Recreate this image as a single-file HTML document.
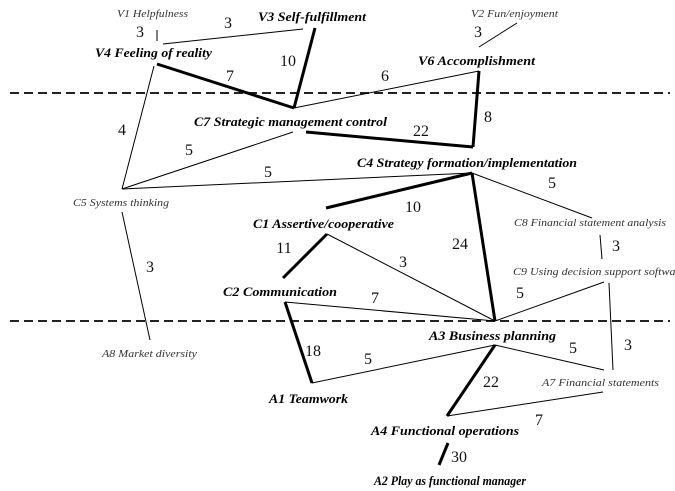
<!DOCTYPE html>
<html>
<head>
<meta charset="utf-8">
<style>
  html,body{margin:0;padding:0;background:#fff;}
  svg{display:block;}
  .b{font-family:"Liberation Serif",serif;font-weight:bold;font-style:italic;font-size:13px;fill:#000;}
  .s{font-family:"Liberation Serif",serif;font-style:italic;font-size:11px;fill:#333;}
  .n{font-family:"Liberation Serif",serif;font-size:16px;fill:#111;text-anchor:middle;}
  .t{stroke:#000;stroke-width:1;fill:none;}
  .k{stroke:#000;stroke-width:3;fill:none;}
  .d{stroke:#222;stroke-width:2;stroke-dasharray:9,5;fill:none;}
</style>
</head>
<body>
<svg width="675" height="491" viewBox="0 0 675 491" xmlns="http://www.w3.org/2000/svg">
  <!-- dashed separators -->
  <line class="d" x1="10" y1="93" x2="670" y2="93"/>
  <line class="d" x1="10" y1="321" x2="670" y2="321"/>

  <!-- thin lines -->
  <line class="t" x1="157" y1="30" x2="157" y2="41"/>
  <line class="t" x1="163" y1="44" x2="303" y2="29"/>
  <line class="t" x1="517" y1="23" x2="479" y2="47"/>
  <line class="t" x1="294" y1="108" x2="479" y2="71"/>
  <line class="t" x1="154" y1="66" x2="122" y2="189"/>
  <line class="t" x1="293" y1="132" x2="122" y2="189"/>
  <line class="t" x1="122" y1="189" x2="472" y2="173"/>
  <line class="t" x1="122" y1="212" x2="150" y2="340"/>
  <line class="t" x1="472" y1="173" x2="592" y2="218"/>
  <line class="t" x1="600" y1="235" x2="602" y2="259"/>
  <line class="t" x1="327" y1="234" x2="495" y2="321"/>
  <line class="t" x1="285" y1="302" x2="495" y2="321"/>
  <line class="t" x1="604" y1="282" x2="495" y2="321"/>
  <line class="t" x1="609" y1="283" x2="613" y2="370"/>
  <line class="t" x1="495" y1="345" x2="312" y2="383"/>
  <line class="t" x1="495" y1="345" x2="604" y2="370"/>
  <line class="t" x1="447" y1="416" x2="603" y2="392"/>

  <!-- thick lines -->
  <line class="k" x1="315" y1="28" x2="294" y2="108"/>
  <line class="k" x1="157" y1="64" x2="294" y2="108"/>
  <line class="k" x1="479" y1="71" x2="473" y2="147"/>
  <line class="k" x1="306" y1="132" x2="473" y2="147"/>
  <line class="k" x1="326" y1="208" x2="472" y2="173"/>
  <line class="k" x1="472" y1="173" x2="495" y2="321"/>
  <line class="k" x1="327" y1="234" x2="283" y2="278"/>
  <line class="k" x1="285" y1="302" x2="312" y2="383"/>
  <line class="k" x1="495" y1="345" x2="447" y2="416"/>
  <line class="k" x1="448" y1="443" x2="439" y2="465"/>

  <!-- labels -->
  <text class="s" x="117" y="17" textLength="71" lengthAdjust="spacingAndGlyphs">V1 Helpfulness</text>
  <text class="s" x="471" y="17" textLength="87" lengthAdjust="spacingAndGlyphs">V2 Fun/enjoyment</text>
  <text class="b" x="258" y="21" textLength="108" lengthAdjust="spacingAndGlyphs">V3 Self-fulfillment</text>
  <text class="b" x="95" y="57" textLength="117" lengthAdjust="spacingAndGlyphs">V4 Feeling of reality</text>
  <text class="b" x="418" y="65" textLength="117" lengthAdjust="spacingAndGlyphs">V6 Accomplishment</text>
  <text class="b" x="194" y="126" textLength="193" lengthAdjust="spacingAndGlyphs">C7 Strategic management control</text>
  <text class="b" x="357" y="167" textLength="220" lengthAdjust="spacingAndGlyphs">C4 Strategy formation/implementation</text>
  <text class="s" x="73" y="206" textLength="96" lengthAdjust="spacingAndGlyphs">C5 Systems thinking</text>
  <text class="b" x="253" y="228" textLength="141" lengthAdjust="spacingAndGlyphs">C1 Assertive/cooperative</text>
  <text class="s" x="514" y="226" textLength="152" lengthAdjust="spacingAndGlyphs">C8 Financial statement analysis</text>
  <text class="s" x="513" y="275" textLength="172" lengthAdjust="spacingAndGlyphs">C9 Using decision support software</text>
  <text class="b" x="223" y="296" textLength="114" lengthAdjust="spacingAndGlyphs">C2 Communication</text>
  <text class="b" x="429" y="340" textLength="127" lengthAdjust="spacingAndGlyphs">A3 Business planning</text>
  <text class="s" x="102" y="357" textLength="95" lengthAdjust="spacingAndGlyphs">A8 Market diversity</text>
  <text class="s" x="542" y="386" textLength="117" lengthAdjust="spacingAndGlyphs">A7 Financial statements</text>
  <text class="b" x="269" y="403" textLength="79" lengthAdjust="spacingAndGlyphs">A1 Teamwork</text>
  <text class="b" x="371" y="435" textLength="148" lengthAdjust="spacingAndGlyphs">A4 Functional operations</text>
  <text class="b" x="374" y="485" textLength="152" lengthAdjust="spacingAndGlyphs">A2 Play as functional manager</text>

  <!-- numbers -->
  <text class="n" x="140" y="37">3</text>
  <text class="n" x="228" y="28">3</text>
  <text class="n" x="288" y="66">10</text>
  <text class="n" x="230" y="81">7</text>
  <text class="n" x="478" y="37">3</text>
  <text class="n" x="385" y="81">6</text>
  <text class="n" x="488" y="122">8</text>
  <text class="n" x="122" y="135">4</text>
  <text class="n" x="189" y="155">5</text>
  <text class="n" x="421" y="136">22</text>
  <text class="n" x="268" y="177">5</text>
  <text class="n" x="413" y="212">10</text>
  <text class="n" x="552" y="188">5</text>
  <text class="n" x="150" y="272">3</text>
  <text class="n" x="284" y="253">11</text>
  <text class="n" x="460" y="249">24</text>
  <text class="n" x="403" y="267">3</text>
  <text class="n" x="616" y="251">3</text>
  <text class="n" x="375" y="303">7</text>
  <text class="n" x="520" y="298">5</text>
  <text class="n" x="313" y="356">18</text>
  <text class="n" x="368" y="364">5</text>
  <text class="n" x="573" y="353">5</text>
  <text class="n" x="628" y="350">3</text>
  <text class="n" x="491" y="387">22</text>
  <text class="n" x="539" y="425">7</text>
  <text class="n" x="459" y="462">30</text>
</svg>
</body>
</html>
